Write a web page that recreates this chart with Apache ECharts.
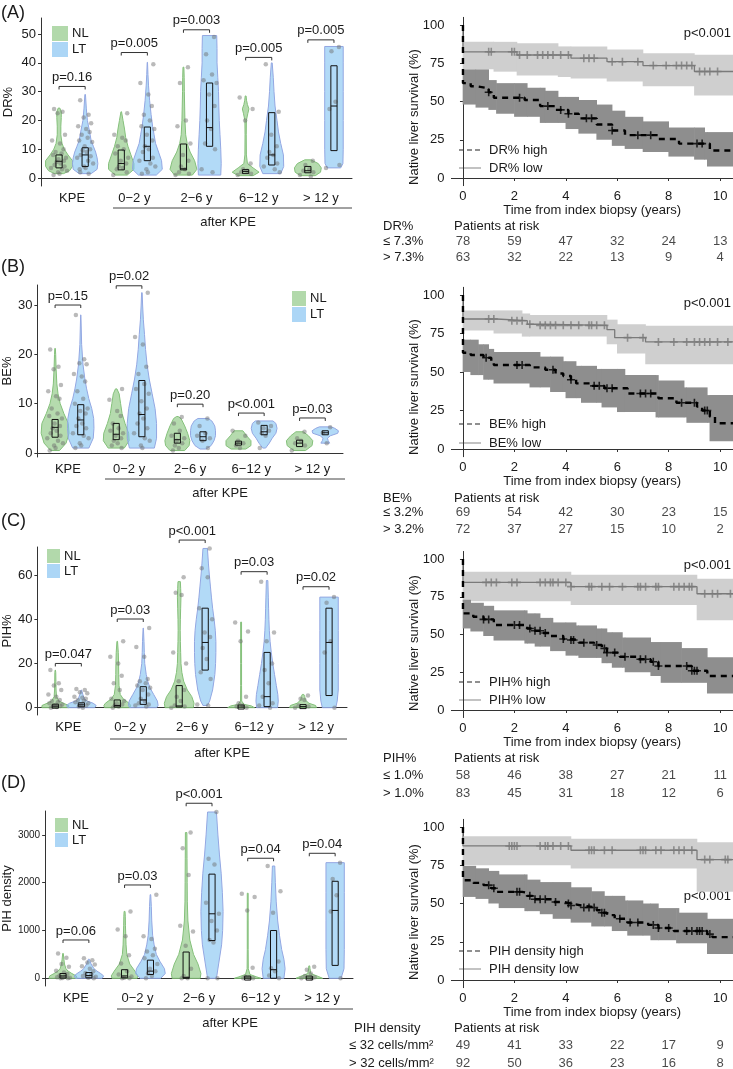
<!DOCTYPE html>
<html>
<head>
<meta charset="utf-8">
<script src="https://cdn.jsdelivr.net/npm/echarts@6/dist/echarts.min.js"></script>
<style>
html, body { margin: 0; background: #fff; }
#chart { width: 733px; height: 1069px; }
</style>
</head>
<body>
<div id="chart"></div>
<script>
// ---- data ----
const groups = ['KPE', '0\u22122 y', '2\u22126 y', '6\u221212 y', '> 12 y']
const riskTimes = [0, 2, 4, 6, 8, 10]

// violin outlines: [value, relative half width] from bottom to top, one list per time group
const drProfNL = [
    [[1.5,0.3],[2.5,0.7],[4,0.9],[6,0.9],[8,0.6],[10,0.35],[12,0.2],[15,0.12],[18,0.12],[21,0.15],[23,0.15],[24.3,0.05]],
    [[1,0.4],[3,0.85],[5,0.85],[8,0.65],[11,0.45],[14,0.3],[17,0.22],[20,0.12],[23,0.02]],
    [[1,0.6],[3,0.9],[6,0.75],[9,0.45],[12,0.25],[15,0.15],[20,0.1],[25,0.08],[30,0.06],[35,0.05],[38.5,0.03]],
    [[0.8,0.5],[2,0.9],[3.5,0.5],[5,0.12],[8,0.05],[15,0.04],[20,0.05],[22.5,0.15],[24,0.22],[25.5,0.12],[27,0.06],[28.5,0.03]],
    [[0.8,0.5],[2,0.85],[3.5,0.9],[5,0.7],[6.3,0.2]],
]
const drProfLT = [
    [[1.5,0.4],[3,0.8],[5,0.85],[7,0.8],[9,0.7],[11,0.55],[13,0.4],[16,0.3],[20,0.15],[24,0.08],[29,0.02]],
    [[1,0.6],[3,1],[6,0.95],[9,0.75],[12,0.55],[15,0.45],[18,0.35],[22,0.25],[27,0.15],[32,0.08],[36,0.04],[40.2,0.01]],
    [[1,0.75],[5,0.78],[10,0.75],[15,0.7],[20,0.65],[25,0.62],[30,0.6],[35,0.55],[40,0.5],[45,0.5],[49.5,0.48]],
    [[1.5,0.6],[4,0.8],[8,0.78],[12,0.6],[16,0.45],[20,0.35],[25,0.22],[30,0.15],[35,0.1],[40,0.03]],
    [[3.5,0.45],[5,0.6],[10,0.62],[20,0.62],[30,0.62],[40,0.62],[45.7,0.62]],
]
const drBoxNL = [[3.5,5.8,8],[2.8,5,9.7],[2.8,3.2,11.8],[1.8,2.2,3],[1.8,2.5,4]]
const drBoxLT = [[4,8,10.5],[6,11,17.7],[11,17.5,33],[4.5,8,22.7],[9.5,25,39]]
const drPtsNL = [
    [24,23,22.5,15,13,12,10,9,8.5,8,7,6.5,6,5.5,5,4.5,4,3.5,3,2.5,2,1.5,1],
    [22.5,15,14,13,11,10,8.5,7,6,5,4,3.5,3,2,1],
    [38.5,33,20,18,12,8,6,4,3,2,1.5,1],
    [28,24,20,5,3,2.5,2,1.5,1],
    [6,4.5,3,2.5,2,1,0.5],
]
const drPtsLT = [
    [27,22,21,19,18,17,16,15,14,13,12.5,11,10,9.5,9,8,7.5,7,6,5,4,3.5,3,2,1.5],
    [39.5,33,29,25,22,20,18,17,15,13,11,10,9,7,6,5,4,3,2,1.5],
    [49,43,36,34,33,29,25,20,17,12,10,3,2],
    [39.5,23,15,11,9,8,7,5,4,3,2],
    [45.5,44,26.5,24,4.5,3.5],
]
const drBracket = [31.8, 43.6, 51.5, 41.9, 48]
const drPval = ['p=0.16', 'p=0.005', 'p=0.003', 'p=0.005', 'p=0.005']

const beProfNL = [
    [[0.5,0.3],[2,0.75],[4,0.95],[6,0.9],[8,0.6],[10,0.35],[12,0.2],[14,0.12],[17,0.07],[20,0.04],[21.2,0.02]],
    [[1,0.55],[2.5,0.88],[4,0.85],[6,0.6],[8,0.4],[10,0.3],[12,0.2],[13,0.05]],
    [[0.5,0.5],[1.5,0.8],[2.5,0.85],[4,0.7],[5.5,0.5],[7,0.25],[7.4,0.05]],
    [[0.8,0.5],[1.5,0.85],[2.5,0.85],[3.5,0.55],[4.5,0.3]],
    [[0.5,0.4],[1.5,0.85],[2.5,0.9],[3.5,0.6],[4.3,0.25]],
]
const beProfLT = [
    [[1,0.55],[3,0.85],[5,0.9],[7,0.88],[9,0.75],[11,0.55],[13,0.4],[15,0.28],[18,0.15],[22,0.06],[28,0.01]],
    [[1,0.85],[3,1],[6,1],[9,0.9],[12,0.7],[15,0.5],[18,0.35],[21,0.25],[24,0.18],[27,0.1],[30,0.05],[32.5,0.02]],
    [[0.8,0.2],[1.5,0.55],[2.5,0.75],[3.5,0.85],[4.5,0.85],[5.5,0.8],[6.5,0.6],[7,0.35]],
    [[1,0.1],[2,0.35],[3,0.55],[4,0.8],[5,0.88],[6,0.8],[6.5,0.6]],
    [[2,0.3],[2.5,0.2],[3,0.15],[3.5,0.35],[4,0.85],[4.5,0.9],[5,0.65],[5.3,0.4]],
]
const beBoxNL = [[3.2,5.2,6.8],[2.7,3.8,6],[2,2.7,4],[1.6,2,2.4],[1.3,2,2.6]]
const beBoxLT = [[3.7,6.7,9.8],[3.3,7.8,14.7],[2.5,3.3,4.3],[3.7,4.3,5.6],[3.7,4.1,4.3]]
const bePtsNL = [
    [21,17.5,17,13.8,12.5,11.5,11,9,8,7.5,7,6,5.5,5,4.5,4,3.5,3,2.5,2,1.5,1,0.5],
    [13,10.8,8.5,7.5,6,5,4.5,4,3.5,3,2.5,2,1.5,1],
    [7.3,6,4.5,3.5,3,2.5,2,1.5,1,0.5],
    [4.5,3.5,2.5,2,1.5,1],
    [4.3,3,2.5,2,1.5,0.5],
]
const bePtsLT = [
    [28,19,18.2,18,16,15.5,14.5,12.5,11,10,9,8.5,8,7,6,5.5,5,4,3.5,3,2,1.5,1],
    [32.5,23.5,22,17.5,16,14,13,12,10.5,9,8,7,6,5,4,3,2.5,1.5,1],
    [7,5.5,4,3.5,3,2.5,1],
    [6.2,5.5,5,4.5,4,3.5,1],
    [5.2,4.1,2],
]
const beBracket = [30, 33.9, 9.9, 8.1, 7.1]
const bePval = ['p=0.15', 'p=0.02', 'p=0.20', 'p<0.001', 'p=0.03']

const pihProfNL = [
    [[0,0.9],[1,0.9],[2,0.55],[3,0.25],[5,0.08],[8,0.05],[12,0.04],[16,0.03],[17,0.01]],
    [[0,0.85],[1,0.9],[2,0.8],[4,0.4],[6,0.2],[10,0.12],[15,0.1],[20,0.09],[25,0.07],[30,0.02]],
    [[0,0.95],[2,1],[5,0.85],[8,0.55],[12,0.3],[16,0.18],[20,0.12],[25,0.1],[30,0.08],[35,0.07],[40,0.08],[45,0.1],[50,0.12],[54,0.1],[57,0.08]],
    [[0,0.9],[0.8,0.7],[1.5,0.2],[3,0.04],[10,0.03],[20,0.03],[30,0.03],[38.7,0.03]],
    [[0,0.9],[1,0.85],[2,0.4],[3.5,0.15],[5,0.12],[6,0.05]],
]
const pihProfLT = [
    [[0,0.9],[1,1],[2,0.8],[3,0.4],[4,0.2],[6,0.1],[8,0.02]],
    [[0,0.9],[1,1],[3,0.95],[6,0.7],[9,0.45],[12,0.3],[15,0.2],[20,0.1],[25,0.07],[30,0.05],[36,0.01]],
    [[1,0.15],[3,0.3],[8,0.5],[15,0.65],[20,0.7],[25,0.72],[30,0.72],[35,0.68],[40,0.6],[45,0.5],[50,0.42],[55,0.35],[60,0.28],[65,0.22],[72,0.15]],
    [[0,0.7],[3,0.75],[6,0.72],[10,0.62],[15,0.5],[20,0.38],[25,0.28],[30,0.2],[35,0.15],[40,0.12],[45,0.1],[50,0.08],[57.5,0.05]],
    [[0,0.45],[3,0.55],[8,0.62],[20,0.62],[35,0.62],[50,0.62]],
]
const pihBoxNL = [[0.3,0.7,1.5],[0.3,1,3.5],[0.3,0.8,10],[0,0.3,0.8],[0.2,0.5,1]]
const pihBoxLT = [[0.8,1.3,2],[1.5,3.5,9.5],[17,29.5,45],[0.5,5,25],[5.5,29.5,45]]
const pihPtsNL = [
    [17,11,10,8,6,5,3.5,3,2.5,2,1.5,1,0.8,0.5,0.3,0],
    [30,23,20,14.5,11,8,4,3,2,1.5,1,0.5,0],
    [59,52,51,25,20,12,8,5,3,1,0.5,0],
    [38.5,34.5,30,5,2,1,0.5,0],
    [5.5,4,3.5,1,0.5,0],
]
const pihPtsLT = [
    [8.5,8,7,6.5,5,4.5,4,3.5,3,2.5,2,1.5,1,0.5,0],
    [36,27.5,23,13,12,11,10,9,8,6,4,3,2,1.5,1,0.5],
    [72,63,59,45,40,34,32,27,22,16,13,1.5,1],
    [57,34,30,20,17,11,5,2,1,0],
    [50,47.5,30,25,0],
]
const pihBracket = [20, 40.1, 75.8, 61.5, 54.7]
const pihPval = ['p=0.047', 'p=0.03', 'p<0.001', 'p=0.03', 'p=0.02']

const denProfNL = [
    [[0,0.95],[50,0.9],[100,0.6],[150,0.35],[200,0.2],[300,0.1],[400,0.06],[520,0.02]],
    [[0,0.85],[50,0.9],[150,0.7],[300,0.35],[500,0.15],[700,0.1],[900,0.08],[1100,0.06],[1300,0.05],[1400,0.03]],
    [[0,0.95],[100,1],[300,0.8],[500,0.5],[800,0.25],[1200,0.12],[1600,0.08],[2000,0.07],[2500,0.06],[3050,0.05]],
    [[0,0.9],[30,0.6],[80,0.15],[200,0.04],[600,0.03],[1200,0.03],[1780,0.03]],
    [[0,0.9],[40,0.6],[100,0.1],[200,0.05],[260,0.03]],
]
const denProfLT = [
    [[0,0.9],[50,1],[100,0.8],[150,0.55],[200,0.35],[300,0.15],[400,0.03]],
    [[0,0.7],[100,1],[200,0.95],[350,0.65],[500,0.4],[700,0.25],[900,0.15],[1200,0.09],[1500,0.06],[1750,0.02]],
    [[0,0.3],[300,0.45],[700,0.65],[1000,0.72],[1400,0.75],[1800,0.7],[2200,0.62],[2600,0.5],[3000,0.4],[3480,0.3]],
    [[0,0.7],[200,0.78],[400,0.7],[600,0.55],[900,0.4],[1200,0.28],[1600,0.18],[2000,0.12],[2350,0.08]],
    [[0,0.4],[200,0.6],[600,0.62],[1200,0.62],[1800,0.62],[2420,0.62]],
]
const denBoxNL = [[5,50,100],[10,50,180],[0,20,550],[0,5,20],[0,5,20]]
const denBoxLT = [[10,60,120],[80,150,380],[790,1350,2180],[0,180,1000],[270,1420,2030]]
const denPtsNL = [
    [520,430,300,240,160,120,90,60,40,20,10,5,0,0],
    [1400,1020,880,480,310,150,80,40,10,0,0],
    [3050,2720,2160,1100,980,680,200,50,0,0],
    [1770,1700,1420,220,30,10,0,0],
    [240,180,100,50,20,0,0],
]
const denPtsLT = [
    [420,380,330,290,250,200,150,110,80,50,30,10,0],
    [1750,880,820,620,560,480,420,300,200,150,100,50,0],
    [3480,2500,2380,1580,1350,1200,1000,800,750,0,0],
    [2350,1820,1370,350,210,150,60,0],
    [2420,2080,1740,1400,0],
]
const denBracket = [802, 1953, 3663, 2512, 2616]
const denPval = ['p=0.06', 'p=0.03', 'p<0.001', 'p=0.04', 'p=0.04']

// Kaplan-Meier: [time, survival %] step points, bands [time, lower, upper]
const drLow = [[0,100],[0,82.5],[2.1,80.4],[4.2,78.3],[5.6,76],[7.0,73.5],[9.0,69.6]]
const drHigh = [[0,100],[0,62],[0.3,60],[0.5,58.7],[1.0,56],[1.2,52.5],[2.4,51],[3.0,47],[3.6,44.5],[4.1,42],[4.5,39],[5.2,35],[5.8,31],[6.3,28],[7.6,25.5],[8.4,22.5],[9.6,18]]
const drLowBand = [[0,71,89],[1.2,69.5,89],[2.1,67,88],[3.7,66,86],[4.2,65,86],[5.6,63,84],[7.0,60,81.5],[9.0,54,80.5]]
const drHighBand = [[0,48,71],[0.5,46,71],[1.0,44.5,64],[1.3,42,62],[2.0,40,62],[2.5,40,59],[3.0,36,59],[3.2,36,57],[3.7,36,53],[4.0,32,53],[4.5,29,51],[5.2,25,48],[5.8,21,44],[6.3,19,40],[7.0,17,37],[8.0,14,33],[9.0,12,33],[9.4,12,30],[9.5,7.5,30]]
const drLowCens = [1.0,1.1,1.9,2.0,2.2,2.5,2.9,3.1,3.3,3.5,3.8,4.1,4.7,4.9,5.1,5.8,6.2,6.8,7.4,7.9,8.3,8.5,8.7,8.9,9.2,9.4,9.6,9.9]
const drHighCens = [1.0,2.2,3.3,3.8,4.1,4.8,5.0,5.8,6.8,7.3,9.1,9.3]
const drRiskLow = [78, 59, 47, 32, 24, 13]
const drRiskHigh = [63, 32, 22, 13, 9, 4]

const beLow = [[0,100],[0,84.4],[1.3,83.3],[2.5,81],[3.0,80.3],[5.6,77.5],[5.9,72.3],[7.1,69.5]]
const beHigh = [[0,100],[0,62.5],[0.3,61],[0.8,59.3],[1.1,57],[1.2,54.5],[2.6,53],[3.2,51.5],[3.6,49],[3.9,47.4],[4.2,45],[4.4,42.6],[5.0,41],[5.5,39.4],[6.4,36],[7.6,33],[8.3,30],[9.1,27.5],[9.3,25],[9.6,21],[9.8,16.7]]
const beLowBand = [[0,77,90],[1.2,75,90],[2.3,73,88],[2.6,73,87],[5.6,68,84],[6.0,62,81],[7.1,55,80]]
const beHighBand = [[0,50,71],[0.3,48,71],[0.6,48,68],[0.8,45,68],[1.0,45,65],[1.2,42.5,63],[2.6,40,63],[3.0,40,60],[3.4,37,60],[3.9,37,57],[4.0,33,57],[4.4,33,54],[4.6,30,54],[5.2,30,52],[5.4,27,52],[6.0,24,52],[6.3,24,48],[7.5,20.5,48],[7.6,20.5,44.5],[8.6,20.5,40],[8.7,17,40],[9.5,17,35],[9.6,5,35]]
const beLowCens = [1.0,1.2,1.9,2.1,2.3,2.6,3.0,3.2,3.4,3.6,3.9,4.2,4.5,4.9,5.0,5.2,5.5,6.4,7.0,7.6,8.2,8.7,9.0,9.2,9.4,9.6,9.9,10.3]
const beHighCens = [0.9,2.1,2.3,3.5,4.2,5.1,5.3,5.6,5.8,6.9,7.1,7.3,8.5,9.0,9.4,9.5]
const beRiskLow = [69, 54, 42, 30, 23, 15]
const beRiskHigh = [72, 37, 27, 15, 10, 2]

const pihLow = [[0,100],[0,84.5],[4.2,81.7],[9.1,77]]
const pihHigh = [[0,100],[0,64],[0.4,61.8],[0.8,60],[1.2,56.3],[2.5,54],[2.7,52.5],[3.1,51],[3.4,49],[3.9,47],[4.2,46.4],[4.5,44.6],[5.1,43],[5.4,40.8],[5.6,38],[6.1,35.3],[6.8,33.6],[7.3,32],[7.6,29.1],[8.9,26],[9.5,22.5]]
const pihLowBand = [[0,72,91.5],[4.2,69.5,89.5],[9.1,59.5,87]]
const pihHighBand = [[0,54,73],[0.3,52,71],[0.8,49,69],[1.2,46,66],[2.4,44,66],[2.5,44,64],[2.8,42,64],[3.0,42,61],[3.4,39,61],[3.5,39,58],[4.0,36,58],[4.4,36,56],[4.5,34.5,56],[5.2,34.5,54],[5.4,31,54],[5.6,31,51.5],[5.8,28,51.5],[6.2,28,48],[6.3,25,48],[7.3,22.5,45],[7.7,18,45],[8.5,18,41],[9.5,11,35]]
const pihLowCens = [0.9,1.1,1.3,1.9,2.1,3.0,3.2,3.4,3.5,3.7,4.0,4.2,4.9,5.0,5.4,5.7,6.2,6.8,6.9,7.1,7.5,7.6,8.2,8.4,8.6,8.8,8.9,9.4,9.7,9.9,10.4]
const pihHighCens = [0.8,1.0,2.0,2.2,2.6,2.8,3.0,3.2,3.9,4.2,4.3,4.7,5.2,5.5,5.6,5.9,6.3,6.9,7.1,7.4,7.6,8.7,8.9,9.0,9.1]
const pihRiskLow = [58, 46, 38, 27, 21, 11]
const pihRiskHigh = [83, 45, 31, 18, 12, 6]

const denLow = [[0,100],[0,87.6],[4.2,84.8],[9.1,78.7]]
const denHigh = [[0,100],[0,65.2],[0.4,63.5],[0.8,62],[1.1,60],[1.3,57.6],[2.3,57],[2.5,55],[2.7,52.8],[3.5,51],[3.9,50],[4.2,48.7],[4.6,47.4],[5.2,45.6],[5.4,44],[5.6,42.4],[5.9,40],[6.4,37.6],[7.2,36],[7.6,34],[8.2,32],[9.5,30],[9.7,28]]
const denLowBand = [[0,75,94],[4.2,72.8,92.4],[9.1,57.6,90]]
const denHighBand = [[0,54.3,74.6],[0.5,53,73],[1.0,50,71.3],[1.4,47,69],[2.4,45,69],[2.5,45,65.6],[3.0,43,64],[3.5,40,64],[4.2,37.5,60.6],[5.0,35,58],[5.5,35,55],[5.8,32,55],[6.3,32,52],[6.4,29,52],[7.0,29,50],[7.3,26,50],[7.6,26,47],[8.3,24,47],[8.4,24,44],[9.5,17,40]]
const denLowCens = [1.8,1.9,2.0,2.1,3.0,3.2,3.3,3.5,3.8,4.1,4.9,5.0,5.1,5.5,5.8,6.9,7.0,7.1,7.5,7.7,8.2,8.4,8.6,8.9,9.4,9.6,10.2,10.3]
const denHighCens = [1.0,1.2,2.1,2.2,2.6,2.8,3.0,3.2,3.6,4.1,4.2,4.7,4.9,5.1,5.4,5.5,6.1,6.5,6.8,7.4,7.6,8.0,8.7,8.9,9.1,9.2,9.3,9.6]
const denRiskLow = [49, 41, 33, 22, 17, 9]
const denRiskHigh = [92, 50, 36, 23, 16, 8]

// fixed jitter offsets for the dots (fraction of JW)
const JITTER = [-0.5,0.35,-0.15,0.6,-0.7,0.1,0.45,-0.35,0.25,-0.6,0.7,-0.05,0.5,-0.25,0.15,-0.45,0.55,-0.8,0.3,0.8,-0.1,0.05,-0.55]

// ---- style / layout ----
const FONT = '"Liberation Sans", Arial, sans-serif'
const NL_FILL = 'rgba(120,190,108,0.55)', NL_LINE = '#84c07a'
const LT_FILL = 'rgba(130,196,242,0.62)', LT_LINE = '#93a7e2'
const DODGE = 0.21, MAXW = 0.24, BOXW = 0.05, JW = 0.16
const END = 10.5
const KM_LEFT = 451.4

const panels = [
    {
        label: '(A)', labelY: 13, name: 'DR%', nameGap: 26, tickFont: 13,
        v: { left: 41, right: 352, top: 18, bottom: 186, min: -2.8, max: 55.6, ticks: [0, 10, 20, 30, 40, 50] },
        prof: [drProfNL, drProfLT], box: [drBoxNL, drBoxLT], pts: [drPtsNL, drPtsLT], bracket: drBracket, pval: drPval,
        leg: { x: 52, y: 26, w: 16, h: 15 }, after: { x1: 113, x2: 352, y: 208, tx: 228 },
        km: { y100: 25, y0: 178 }, low: drLow, high: drHigh, lowBand: drLowBand, highBand: drHighBand,
        lowCens: drLowCens, highCens: drHighCens, riskLow: drRiskLow, riskHigh: drRiskHigh,
        risk: { head: 226, r1: 241, r2: 257, x: 383, x2: 383 }, riskNames: ['DR%', '\u2264 7.3%', '> 7.3%'],
        kmLeg: ['DR% high', 'DR% low'], kmLegY: [150, 168], pY: 33, titleY: 117,
    },
    {
        label: '(B)', labelY: 267, name: 'BE%', nameGap: 19, tickFont: 13,
        v: { left: 34, right: 343, top: 285, bottom: 457, min: -0.81, max: 34.06, ticks: [0, 10, 20, 30] },
        prof: [beProfNL, beProfLT], box: [beBoxNL, beBoxLT], pts: [bePtsNL, bePtsLT], bracket: beBracket, pval: bePval,
        leg: { x: 292, y: 291, w: 14, h: 15 }, after: { x1: 105, x2: 345, y: 479, tx: 220 },
        km: { y100: 295, y0: 449 }, low: beLow, high: beHigh, lowBand: beLowBand, highBand: beHighBand,
        lowCens: beLowCens, highCens: beHighCens, riskLow: beRiskLow, riskHigh: beRiskHigh,
        risk: { head: 498, r1: 512, r2: 529, x: 383, x2: 383 }, riskNames: ['BE%', '\u2264 3.2%', '> 3.2%'],
        kmLeg: ['BE% high', 'BE% low'], kmLegY: [424, 443], pY: 303, titleY: 387,
    },
    {
        label: '(C)', labelY: 521, name: 'PIH%', nameGap: 21, tickFont: 13,
        v: { left: 36, right: 347, top: 547, bottom: 715, min: -3.3, max: 72.66, ticks: [0, 20, 40, 60] },
        prof: [pihProfNL, pihProfLT], box: [pihBoxNL, pihBoxLT], pts: [pihPtsNL, pihPtsLT], bracket: pihBracket, pval: pihPval,
        leg: { x: 47, y: 549, w: 13, h: 14 }, after: { x1: 110, x2: 347, y: 739, tx: 222 },
        km: { y100: 559, y0: 710 }, low: pihLow, high: pihHigh, lowBand: pihLowBand, highBand: pihHighBand,
        lowCens: pihLowCens, highCens: pihHighCens, riskLow: pihRiskLow, riskHigh: pihRiskHigh,
        risk: { head: 758, r1: 775, r2: 793, x: 383, x2: 383 }, riskNames: ['PIH%', '\u2264 1.0%', '> 1.0%'],
        kmLeg: ['PIH% high', 'PIH% low'], kmLegY: [682, 700], pY: 565, titleY: 643,
    },
    {
        label: '(D)', labelY: 783, name: 'PIH density', nameGap: 30, tickFont: 10,
        v: { left: 45, right: 353, top: 811, bottom: 986, min: -161, max: 3501, ticks: [0, 1000, 2000, 3000] },
        prof: [denProfNL, denProfLT], box: [denBoxNL, denBoxLT], pts: [denPtsNL, denPtsLT], bracket: denBracket, pval: denPval,
        leg: { x: 55, y: 818, w: 13, h: 14 }, after: { x1: 117, x2: 353, y: 1009, tx: 230 },
        km: { y100: 827, y0: 980 }, low: denLow, high: denHigh, lowBand: denLowBand, highBand: denHighBand,
        lowCens: denLowCens, highCens: denHighCens, riskLow: denRiskLow, riskHigh: denRiskHigh,
        risk: { head: 1028, r1: 1045, r2: 1063, x: 354, x2: 349 }, riskNames: ['PIH density', '\u2264 32 cells/mm\u00b2', '> 32 cells/mm\u00b2'],
        kmLeg: ['PIH density high', 'PIH density low'], kmLegY: [951, 969], pY: 896, titleY: 912,
    },
]

// step function lookup for censor marks
function stepAt(curve, t) {
    let s = curve[0][1]
    curve.forEach(p => { if (p[0] <= t) s = p[1] })
    return s
}

function text(x, y, str, opt) {
    opt = opt || {}
    return {
        type: 'text', x: x, y: y, rotation: opt.rotation || 0, silent: true,
        style: {
            text: str, fill: opt.color || '#1a1a1a', font: (opt.size || 13) + 'px ' + FONT,
            align: opt.align || 'left', verticalAlign: 'middle',
            textAlign: opt.align || 'left', textVerticalAlign: 'middle',
        },
    }
}

const option = {
    animation: false,
    textStyle: { fontFamily: FONT },
    grid: [], xAxis: [], yAxis: [], series: [], graphic: [],
}
const axisCol = '#333'

panels.forEach(p => {
    // ---------- violin panel ----------
    const vi = option.grid.length
    option.grid.push({ left: p.v.left, top: p.v.top, width: p.v.right - p.v.left, height: p.v.bottom - p.v.top })
    option.xAxis.push({
        gridIndex: vi, type: 'value', min: 0.5, max: 5.5,
        axisLine: { lineStyle: { color: axisCol } }, axisTick: { show: false }, splitLine: { show: false },
        axisLabel: { customValues: [1, 2, 3, 4, 5], formatter: v => groups[Math.round(v) - 1], color: '#1a1a1a', fontSize: 13, margin: 6 },
    })
    option.yAxis.push({
        gridIndex: vi, type: 'value', min: p.v.min, max: p.v.max,
        name: p.name, nameLocation: 'middle', nameGap: p.nameGap, nameTextStyle: { color: '#1a1a1a', fontSize: 13 },
        axisLine: { show: true, lineStyle: { color: axisCol } },
        axisTick: { show: true, length: 3, customValues: p.v.ticks, lineStyle: { color: axisCol } },
        axisLabel: { customValues: p.v.ticks, formatter: v => String(v), color: '#1a1a1a', fontSize: p.tickFont, margin: 5 },
        splitLine: { show: false },
    })

    ;[0, 1].forEach(g => {
        const prof = p.prof[g]
        const sign = g ? 1 : -1
        option.series.push({
            type: 'custom', xAxisIndex: vi, yAxisIndex: vi, z: 2, clip: false, silent: true,
            data: prof.map((pr, c) => [c + 1, pr[0][0]]),
            renderItem: (params, api) => {
                const c = params.dataIndex
                const cx = c + 1 + sign * DODGE
                const pr = prof[c]
                const right = pr.map(d => api.coord([cx + d[1] * MAXW, d[0]]))
                const left = pr.slice().reverse().map(d => api.coord([cx - d[1] * MAXW, d[0]]))
                return {
                    type: 'polygon', shape: { points: right.concat(left) },
                    style: { fill: g ? LT_FILL : NL_FILL, stroke: g ? LT_LINE : NL_LINE, lineWidth: 1 },
                }
            },
        })
        // dots
        const dots = []
        p.pts[g].forEach((list, c) => {
            list.forEach((y, i) => {
                dots.push([c + 1 + sign * DODGE + JITTER[(i + c * 3) % JITTER.length] * JW, y])
            })
        })
        option.series.push({
            type: 'scatter', xAxisIndex: vi, yAxisIndex: vi, z: 3, silent: true,
            symbolSize: 4.5, itemStyle: { color: 'rgba(110,110,110,0.6)' }, data: dots,
        })
        // boxes
        const boxes = p.box[g]
        option.series.push({
            type: 'custom', xAxisIndex: vi, yAxisIndex: vi, z: 4, clip: false, silent: true,
            data: boxes.map((b, c) => [c + 1, b[1]]),
            renderItem: (params, api) => {
                const c = params.dataIndex
                const q = boxes[c]
                const cx = c + 1 + sign * DODGE
                const tl = api.coord([cx - BOXW, q[2]])
                const br = api.coord([cx + BOXW, q[0]])
                const md = api.coord([cx, q[1]])
                let h = br[1] - tl[1], y0 = tl[1]
                if (h < 4) { y0 = md[1] - 2; h = 4 }
                return {
                    type: 'group', children: [
                        { type: 'rect', shape: { x: tl[0], y: y0, width: br[0] - tl[0], height: h }, style: { fill: 'none', stroke: '#111', lineWidth: 1 } },
                        { type: 'line', shape: { x1: tl[0], y1: md[1], x2: br[0], y2: md[1] }, style: { stroke: '#111', lineWidth: 1 } },
                    ],
                }
            },
        })
    })

    // p-value brackets
    option.series.push({
        type: 'custom', xAxisIndex: vi, yAxisIndex: vi, z: 5, clip: false, silent: true,
        data: p.bracket.map((b, c) => [c + 1, b]),
        renderItem: (params, api) => {
            const c = api.value(0), yb = api.value(1)
            const a = api.coord([c - DODGE, yb]), b = api.coord([c + DODGE, yb])
            return {
                type: 'group', children: [
                    { type: 'polyline', shape: { points: [[a[0], a[1] + 3], [a[0], a[1]], [b[0], b[1]], [b[0], b[1] + 3]] }, style: { fill: 'none', stroke: '#333', lineWidth: 1 } },
                    { type: 'text', x: (a[0] + b[0]) / 2, y: a[1] - 9, style: { text: p.pval[params.dataIndex], fill: '#1a1a1a', font: '13px ' + FONT, align: 'center', verticalAlign: 'middle' } },
                ],
            }
        },
    })

    // panel label, legend, "after KPE"
    option.graphic.push(text(1, p.labelY, p.label, { size: 18 }))
    option.graphic.push({ type: 'rect', shape: { x: p.leg.x, y: p.leg.y, width: p.leg.w, height: p.leg.h }, style: { fill: '#b2d9ab' } })
    option.graphic.push({ type: 'rect', shape: { x: p.leg.x, y: p.leg.y + p.leg.h + 1, width: p.leg.w, height: p.leg.h }, style: { fill: '#acd6f6' } })
    option.graphic.push(text(p.leg.x + p.leg.w + 4, p.leg.y + p.leg.h / 2, 'NL'))
    option.graphic.push(text(p.leg.x + p.leg.w + 4, p.leg.y + p.leg.h * 1.5 + 1, 'LT'))
    option.graphic.push({ type: 'line', shape: { x1: p.after.x1, y1: p.after.y, x2: p.after.x2, y2: p.after.y }, style: { stroke: '#444', lineWidth: 1 } })
    option.graphic.push(text(p.after.tx, p.after.y + 14, 'after KPE', { align: 'center' }))

    // ---------- Kaplan-Meier panel ----------
    const ki = option.grid.length
    const ppu = (p.km.y0 - p.km.y100) / 100
    option.grid.push({ left: KM_LEFT, top: p.km.y100 - 5 * ppu, width: 733 - KM_LEFT, height: 110 * ppu })
    option.xAxis.push({
        gridIndex: ki, type: 'value', min: -0.45, max: END,
        name: 'Time from index biopsy (years)', nameLocation: 'middle', nameGap: 16,
        nameTextStyle: { color: '#1a1a1a', fontSize: 13 },
        axisLine: { lineStyle: { color: axisCol } },
        axisTick: { show: true, length: 3, customValues: riskTimes, lineStyle: { color: axisCol } },
        axisLabel: { customValues: riskTimes, color: '#1a1a1a', fontSize: 13, margin: 4 },
        splitLine: { show: false },
    })
    option.yAxis.push({
        gridIndex: ki, type: 'value', min: -5, max: 105,
        axisLine: { show: true, lineStyle: { color: axisCol } },
        axisTick: { show: true, length: 3, customValues: [0, 25, 50, 75, 100], lineStyle: { color: axisCol } },
        axisLabel: { customValues: [0, 25, 50, 75, 100], color: '#1a1a1a', fontSize: 13, margin: 7 },
        splitLine: { show: false },
    })

    const bandSeries = (band, color) => ({
        type: 'custom', xAxisIndex: ki, yAxisIndex: ki, z: 1, silent: true,
        data: band.map((b, i) => [b[0], b[1], i + 1 < band.length ? band[i + 1][0] : END, b[2]]),
        renderItem: (params, api) => {
            const tl = api.coord([api.value(0), api.value(3)])
            const br = api.coord([api.value(2), api.value(1)])
            return { type: 'rect', shape: { x: tl[0] - 0.3, y: tl[1], width: br[0] - tl[0] + 0.6, height: br[1] - tl[1] }, style: { fill: color } }
        },
    })
    option.series.push(bandSeries(p.lowBand, '#cfcfcf'))
    option.series.push(bandSeries(p.highBand, '#8e8e8e'))

    const ext = c => c.concat([[END, c[c.length - 1][1]]])
    option.series.push({
        type: 'line', xAxisIndex: ki, yAxisIndex: ki, z: 2, step: 'end', symbol: 'none', silent: true,
        data: ext(p.low), lineStyle: { color: '#7a7a7a', width: 1.3 },
    })
    option.series.push({
        type: 'line', xAxisIndex: ki, yAxisIndex: ki, z: 3, step: 'end', symbol: 'none', silent: true,
        data: ext(p.high), lineStyle: { color: '#000', width: 2.4, type: [6, 5] },
    })
    const plus = 'path://M4,0H6V4H10V6H6V10H4V6H0V4H4Z'
    option.series.push({
        type: 'scatter', xAxisIndex: ki, yAxisIndex: ki, z: 4, silent: true, symbol: plus, symbolSize: 8,
        itemStyle: { color: '#7a7a7a' }, data: p.lowCens.map(t => [t, stepAt(p.low, t)]),
    })
    option.series.push({
        type: 'scatter', xAxisIndex: ki, yAxisIndex: ki, z: 4, silent: true, symbol: plus, symbolSize: 8,
        itemStyle: { color: '#000' }, data: p.highCens.map(t => [t, stepAt(p.high, t)]),
    })

    option.graphic.push(text(414, p.titleY, 'Native liver survival (%)', { align: 'center', rotation: Math.PI / 2 }))
    option.graphic.push(text(731, p.pY, 'p<0.001', { align: 'right' }))
    option.graphic.push({ type: 'line', shape: { x1: 459, y1: p.kmLegY[0], x2: 481, y2: p.kmLegY[0] }, style: { stroke: '#222', lineWidth: 1.2, lineDash: [5, 3] } })
    option.graphic.push({ type: 'line', shape: { x1: 459, y1: p.kmLegY[1], x2: 481, y2: p.kmLegY[1] }, style: { stroke: '#9a9a9a', lineWidth: 1.2 } })
    option.graphic.push(text(489, p.kmLegY[0], p.kmLeg[0]))
    option.graphic.push(text(489, p.kmLegY[1], p.kmLeg[1]))

    // ---------- risk table ----------
    const ri = option.grid.length
    option.grid.push({ left: KM_LEFT, top: p.risk.r1, width: 733 - KM_LEFT, height: p.risk.r2 - p.risk.r1 })
    option.xAxis.push({ gridIndex: ri, type: 'value', min: -0.45, max: END, show: false })
    option.yAxis.push({ gridIndex: ri, type: 'value', min: 0, max: 1, inverse: true, show: false })
    const riskData = []
    riskTimes.forEach((t, i) => {
        riskData.push([t, 0, p.riskLow[i]])
        riskData.push([t, 1, p.riskHigh[i]])
    })
    option.series.push({
        type: 'scatter', xAxisIndex: ri, yAxisIndex: ri, silent: true, symbolSize: 1,
        itemStyle: { color: 'rgba(0,0,0,0)' }, data: riskData,
        label: { show: true, position: 'inside', formatter: d => d.value[2], color: '#1a1a1a', fontSize: 13 },
    })
    option.graphic.push(text(p.risk.x, p.risk.head, p.riskNames[0]))
    option.graphic.push(text(454, p.risk.head, 'Patients at risk'))
    option.graphic.push(text(p.risk.x2, p.risk.r1, p.riskNames[1]))
    option.graphic.push(text(p.risk.x2, p.risk.r2, p.riskNames[2]))
})

const chart = echarts.init(document.getElementById('chart'))
chart.setOption(option)
</script>
</body>
</html>
